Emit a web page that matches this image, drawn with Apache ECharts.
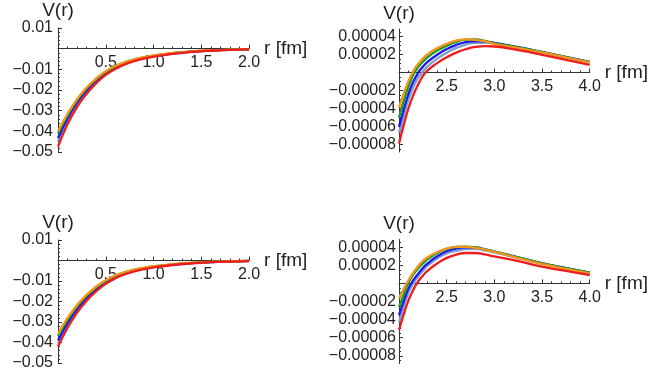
<!DOCTYPE html>
<html>
<head>
<meta charset="utf-8">
<script src="https://cdn.jsdelivr.net/npm/echarts@6/dist/echarts.min.js"></script>
<style>
  html, body { margin: 0; padding: 0; background: #fff; }
  #chart { width: 649px; height: 381px; }
</style>
</head>
<body>
<div id="chart"></div>
<script>
const FONT = "Liberation Sans";

// r values (fm)
const rNear = [0, 0.1, 0.2, 0.3, 0.4, 0.5, 0.6, 0.7, 0.8, 0.9, 1.0, 1.2, 1.4, 1.6, 1.8, 2.0];
const rFar = [2.0, 2.05, 2.1, 2.15, 2.2, 2.25, 2.3, 2.4, 2.5, 2.6, 2.7, 2.8, 2.9, 3.0, 3.25, 3.5, 3.75, 4.0];

// top left
const tlOrange = [-0.0400, -0.0315, -0.0244, -0.0188, -0.0144, -0.0109, -0.0084, -0.0065, -0.0051, -0.0041, -0.0033, -0.0021, -0.0013, -0.0008, -0.0005, -0.0003];
const tlGreen = [-0.0410, -0.0322, -0.0249, -0.0192, -0.0147, -0.0112, -0.0086, -0.0067, -0.0053, -0.0042, -0.0034, -0.0022, -0.0014, -0.0008, -0.0005, -0.0003];
const tlBlue = [-0.0433, -0.0336, -0.0260, -0.0201, -0.0154, -0.0117, -0.0090, -0.0070, -0.0055, -0.0044, -0.0036, -0.0023, -0.0014, -0.0009, -0.0005, -0.0003];
const tlLight = [-0.0450, -0.0348, -0.0269, -0.0208, -0.0160, -0.0121, -0.0093, -0.0073, -0.0057, -0.0046, -0.0037, -0.0024, -0.0015, -0.0009, -0.0006, -0.0003];
const tlRed = [-0.0474, -0.0365, -0.0282, -0.0218, -0.0167, -0.0127, -0.0098, -0.0076, -0.0060, -0.0048, -0.0039, -0.0025, -0.0016, -0.0010, -0.0006, -0.0003];

// top right
const trOrange = [-3.9e-5, -2.3e-5, -0.95e-5, 0.15e-5, 0.95e-5, 1.55e-5, 2.05e-5, 2.72e-5, 3.2e-5, 3.55e-5, 3.7e-5, 3.65e-5, 3.46e-5, 3.2e-5, 2.72e-5, 2.24e-5, 1.68e-5, 1.12e-5];
const trGreen = [-5.0e-5, -3.15e-5, -1.5e-5, -0.25e-5, 0.6e-5, 1.2e-5, 1.72e-5, 2.45e-5, 2.98e-5, 3.4e-5, 3.66e-5, 3.68e-5, 3.52e-5, 3.26e-5, 2.8e-5, 2.28e-5, 1.73e-5, 1.17e-5];
const trBlue = [-6.05e-5, -4.1e-5, -2.35e-5, -1.0e-5, -0.05e-5, 0.65e-5, 1.2e-5, 1.98e-5, 2.62e-5, 3.08e-5, 3.4e-5, 3.5e-5, 3.45e-5, 3.3e-5, 2.83e-5, 2.3e-5, 1.75e-5, 1.2e-5];
const trLight = [-6.7e-5, -4.8e-5, -3.0e-5, -1.65e-5, -0.6e-5, 0.1e-5, 0.7e-5, 1.55e-5, 2.2e-5, 2.75e-5, 3.12e-5, 3.32e-5, 3.33e-5, 3.22e-5, 2.77e-5, 2.25e-5, 1.7e-5, 1.15e-5];
const trRed = [-7.9e-5, -5.8e-5, -3.95e-5, -2.5e-5, -1.35e-5, -0.4e-5, 0.25e-5, 1.05e-5, 1.7e-5, 2.22e-5, 2.6e-5, 2.85e-5, 2.94e-5, 2.9e-5, 2.5e-5, 1.98e-5, 1.4e-5, 0.86e-5];

// bottom left
const blOrange = [-0.0358, -0.0280, -0.0217, -0.0167, -0.0127, -0.0096, -0.0073, -0.0056, -0.0044, -0.0035, -0.0028, -0.0018, -0.0011, -0.0007, -0.0004, -0.0002];
const blGreen = [-0.0368, -0.0288, -0.0223, -0.0172, -0.0131, -0.0099, -0.0075, -0.0058, -0.0045, -0.0036, -0.0029, -0.0019, -0.0012, -0.0007, -0.0004, -0.0002];
const blBlue = [-0.0390, -0.0304, -0.0236, -0.0182, -0.0139, -0.0105, -0.0080, -0.0062, -0.0048, -0.0038, -0.0031, -0.0020, -0.0013, -0.0008, -0.0004, -0.0002];
const blLight = [-0.0405, -0.0316, -0.0245, -0.0189, -0.0145, -0.0110, -0.0084, -0.0065, -0.0051, -0.0040, -0.0032, -0.0021, -0.0013, -0.0008, -0.0005, -0.0003];
const blRed = [-0.0420, -0.0328, -0.0254, -0.0196, -0.0150, -0.0114, -0.0087, -0.0067, -0.0053, -0.0042, -0.0034, -0.0022, -0.0014, -0.0008, -0.0005, -0.0003];

// bottom right
const brOrange = [-1.65e-5, -0.6e-5, 0.35e-5, 1.2e-5, 1.9e-5, 2.5e-5, 2.9e-5, 3.45e-5, 3.85e-5, 4.03e-5, 4.05e-5, 3.92e-5, 3.72e-5, 3.48e-5, 2.8e-5, 2.15e-5, 1.6e-5, 1.1e-5];
const brGreen = [-2.65e-5, -1.2e-5, 0.1e-5, 1.0e-5, 1.65e-5, 2.2e-5, 2.65e-5, 3.35e-5, 3.82e-5, 4.02e-5, 4.07e-5, 4.0e-5, 3.78e-5, 3.52e-5, 2.88e-5, 2.22e-5, 1.68e-5, 1.19e-5];
const brBlue = [-3.5e-5, -1.95e-5, -0.55e-5, 0.35e-5, 1.05e-5, 1.7e-5, 2.2e-5, 3.0e-5, 3.55e-5, 3.85e-5, 3.98e-5, 3.95e-5, 3.77e-5, 3.52e-5, 2.88e-5, 2.23e-5, 1.69e-5, 1.2e-5];
const brLight = [-4.3e-5, -2.55e-5, -1.0e-5, -0.05e-5, 0.75e-5, 1.4e-5, 1.95e-5, 2.75e-5, 3.3e-5, 3.6e-5, 3.78e-5, 3.82e-5, 3.66e-5, 3.42e-5, 2.8e-5, 2.18e-5, 1.65e-5, 1.15e-5];
const brRed = [-5.16e-5, -3.4e-5, -1.85e-5, -0.7e-5, 0.2e-5, 0.85e-5, 1.4e-5, 2.2e-5, 2.82e-5, 3.18e-5, 3.36e-5, 3.36e-5, 3.2e-5, 2.98e-5, 2.45e-5, 1.85e-5, 1.38e-5, 0.92e-5];

// tick labels
const yTicksFar = [-0.00008, -0.00006, -0.00004, -0.00002, 0.00002, 0.00004];

const COLORS = {
    light: "#7d9cd2",
    blue: "#1a1aee",
    green: "#1f9a1f",
    orange: "#f0961a",
    red: "#f01c1c"
};

const NEAR = { min: -0.05, max: 0.01 };
const FAR = { min: -0.0000885, max: 0.0000485 };

const grids = [
    { left: 58, top: 28, width: 191, height: 124 },
    { left: 399, top: 29, width: 193, height: 123 },
    { left: 58, top: 240, width: 191, height: 123 },
    { left: 399, top: 239.5, width: 193, height: 124 }
];

function fmt(v, digits) {
    if (Math.abs(v) < 1e-12) return "";
    return (v < 0 ? "\u2212" : "") + Math.abs(v).toFixed(digits);
}

function makeSeries(gi, rs, curves) {
    return curves.map(c => ({
        type: "line",
        xAxisIndex: gi,
        yAxisIndex: gi,
        smooth: 0.5,
        showSymbol: false,
        silent: true,
        lineStyle: { color: c.color, width: 2.3 },
        data: rs.map((r, i) => [r, c.values[i]])
    }));
}

// x axis sits on V = 0, so shift it up from the grid bottom
function xAxisFor(gi, min, max, yr) {
    const h = grids[gi].height;
    const zeroFromBottom = h * (0 - yr.min) / (yr.max - yr.min);
    return {
        type: "value",
        gridIndex: gi,
        position: "bottom",
        offset: -zeroFromBottom,
        min: min,
        max: max,
        interval: 0.5,
        name: "r [fm]",
        nameLocation: "end",
        nameGap: 8,
        nameTextStyle: { fontSize: 19, color: "#222", fontFamily: FONT },
        axisLine: { onZero: false, lineStyle: { color: "#333", width: 1 } },
        axisTick: { inside: true, length: 4, lineStyle: { color: "#333" } },
        minorTick: { show: true, splitNumber: 5, length: 2, lineStyle: { color: "#333" } },
        axisLabel: {
            showMinLabel: false,
            formatter: v => v.toFixed(1),
            fontSize: 16, color: "#222", fontFamily: FONT, margin: 6
        },
        splitLine: { show: false },
        minorSplitLine: { show: false }
    };
}

function yAxisNear(gi) {
    return {
        type: "value",
        gridIndex: gi,
        position: "left",
        min: NEAR.min,
        max: NEAR.max,
        interval: 0.01,
        name: "V(r)",
        nameLocation: "end",
        nameGap: 6,
        nameTextStyle: { fontSize: 19, color: "#222", fontFamily: FONT },
        axisLine: { onZero: false, lineStyle: { color: "#333", width: 1 } },
        axisTick: { inside: true, length: 4, lineStyle: { color: "#333" } },
        minorTick: { show: true, splitNumber: 5, length: 2, lineStyle: { color: "#333" } },
        axisLabel: {
            formatter: v => fmt(v, 2),
            fontSize: 16, color: "#222", fontFamily: FONT, margin: 5
        },
        splitLine: { show: false }
    };
}

function yAxisFar(gi) {
    return {
        type: "value",
        gridIndex: gi,
        position: "left",
        min: FAR.min,
        max: FAR.max,
        name: "V(r)",
        nameLocation: "end",
        nameGap: 6,
        nameTextStyle: { fontSize: 19, color: "#222", fontFamily: FONT },
        axisLine: { onZero: false, lineStyle: { color: "#333", width: 1 } },
        axisTick: { inside: true, length: 4, customValues: yTicksFar, lineStyle: { color: "#333" } },
        axisLabel: {
            customValues: yTicksFar,
            formatter: v => fmt(v, 5),
            fontSize: 16, color: "#222", fontFamily: FONT, margin: 3
        },
        splitLine: { show: false }
    };
}

// minor ticks for the far panels, drawn by an extra bare axis
const farMinor = [];
for (let k = -17; k <= 9; k++) {
    if (k % 4 !== 0) farMinor.push(k * 0.000005);
}
function yAxisFarMinor(gi) {
    return {
        type: "value",
        gridIndex: gi,
        position: "left",
        min: FAR.min,
        max: FAR.max,
        axisLine: { show: false, onZero: false },
        axisTick: { inside: true, length: 2, customValues: farMinor, lineStyle: { color: "#333" } },
        axisLabel: { show: false },
        splitLine: { show: false }
    };
}

function curves(o, g, b, l, r) {
    return [
        { color: COLORS.light, values: l },
        { color: COLORS.blue, values: b },
        { color: COLORS.green, values: g },
        { color: COLORS.orange, values: o },
        { color: COLORS.red, values: r }
    ];
}

const chart = echarts.init(document.getElementById("chart"));

chart.setOption({
    animation: false,
    grid: grids,
    xAxis: [
        xAxisFor(0, 0, 2.0, NEAR),
        xAxisFor(1, 2.0, 4.0, FAR),
        xAxisFor(2, 0, 2.0, NEAR),
        xAxisFor(3, 2.0, 4.0, FAR)
    ],
    yAxis: [
        yAxisNear(0),
        yAxisFar(1),
        yAxisNear(2),
        yAxisFar(3),
        yAxisFarMinor(1),
        yAxisFarMinor(3)
    ],
    series: [].concat(
        makeSeries(0, rNear, curves(tlOrange, tlGreen, tlBlue, tlLight, tlRed)),
        makeSeries(1, rFar, curves(trOrange, trGreen, trBlue, trLight, trRed)),
        makeSeries(2, rNear, curves(blOrange, blGreen, blBlue, blLight, blRed)),
        makeSeries(3, rFar, curves(brOrange, brGreen, brBlue, brLight, brRed))
    )
});
</script>
</body>
</html>
